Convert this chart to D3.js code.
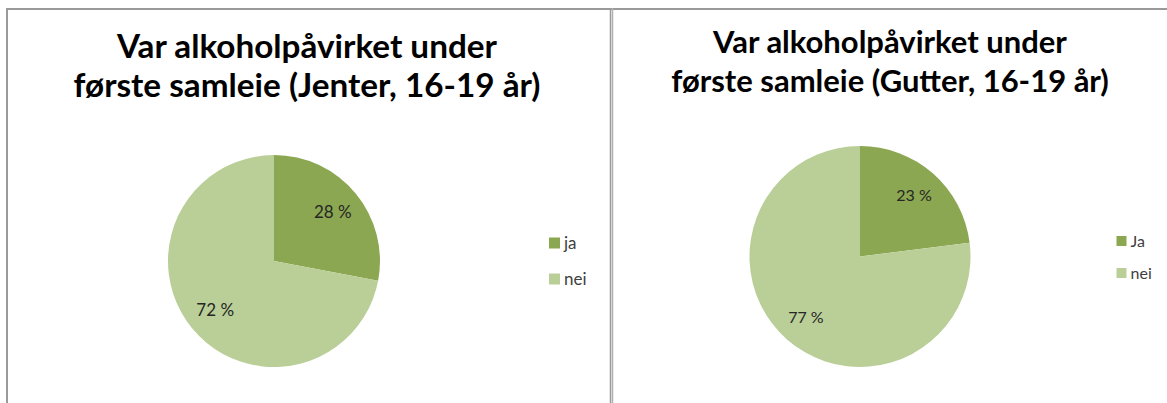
<!DOCTYPE html>
<html>
<head>
<meta charset="utf-8">
<script src="https://cdn.jsdelivr.net/npm/d3@7"></script>
<style>
  html, body { margin: 0; padding: 0; background: #fff; }
  svg { display: block; }
</style>
</head>
<body>
<svg id="chart" width="1167" height="403"></svg>
<script>
// ---- Data ----
const titleLine1 = ["Var alkoholpåvirket under", "Var alkoholpåvirket under"];
const titleLine2 = ["første samleie (Jenter, 16-19 år)", "første samleie (Gutter, 16-19 år)"];
const categoriesJenter = ["ja", "nei"];
const valuesJenter = [28, 72];
const categoriesGutter = ["Ja", "nei"];
const valuesGutter = [23, 77];
const sliceColors = ["#8BA751", "#B9CF97"];

// ---- Layout (not data) ----
const layouts = [
  { cx: 274, cy: 261, r: 106, labelR: 0.72, titleX: 307, t1y: 58, t2y: 97, t1w: 380,
    legX: 549, legY: 237.5, legSize: 11, legGap: 36, legFont: 17, labelFont: 17 },
  { cx: 860, cy: 256.5, r: 110.5, labelR: 0.74, titleX: 890, t1y: 53, t2y: 92, t1w: 354,
    legX: 1116.5, legY: 236, legSize: 10, legGap: 32, legFont: 16, labelFont: 16 }
];
const datasets = [
  { cats: categoriesJenter, vals: valuesJenter },
  { cats: categoriesGutter, vals: valuesGutter }
];

const svg = d3.select("#chart");
const FONT = "Lato, 'Open Sans', sans-serif";

// Frames
svg.append("line").attr("x1", 7).attr("x2", 1167).attr("y1", 9).attr("y2", 9)
  .attr("stroke", "#9a9a9a").attr("stroke-width", 2);
svg.append("line").attr("x1", 7).attr("x2", 7).attr("y1", 8).attr("y2", 403)
  .attr("stroke", "#9a9a9a").attr("stroke-width", 2);
svg.append("line").attr("x1", 610.5).attr("x2", 610.5).attr("y1", 8).attr("y2", 403)
  .attr("stroke", "#9a9a9a").attr("stroke-width", 1.5);
svg.append("line").attr("x1", 612.5).attr("x2", 612.5).attr("y1", 8).attr("y2", 403)
  .attr("stroke", "#b0b0b0").attr("stroke-width", 1.5);

datasets.forEach((ds, i) => {
  const L = layouts[i];
  const g = svg.append("g");

  // Title
  const tt = g.append("text").attr("x", L.titleX).attr("y", L.t1y)
    .attr("text-anchor", "middle").attr("font-family", FONT).attr("font-weight", "bold")
    .attr("font-size", 30).attr("fill", "#000").text(titleLine1[i]);
  const w = tt.node().getComputedTextLength();
  const fs = 30 * L.t1w / w;
  tt.attr("font-size", fs);
  g.append("text").attr("x", L.titleX).attr("y", L.t2y)
    .attr("text-anchor", "middle").attr("font-family", FONT).attr("font-weight", "bold")
    .attr("font-size", fs).attr("fill", "#000").text(titleLine2[i]);

  // Pie
  const color = d3.scaleOrdinal().domain(ds.cats).range(sliceColors);
  const pie = d3.pie().sort(null).value(d => d.v);
  const arcs = pie(ds.cats.map((c, k) => ({ c, v: ds.vals[k] })));
  const arc = d3.arc().innerRadius(0).outerRadius(L.r);
  const labelArc = d3.arc().innerRadius(L.r * L.labelR).outerRadius(L.r * L.labelR);
  const pg = g.append("g").attr("transform", `translate(${L.cx},${L.cy})`);
  pg.selectAll("path").data(arcs).join("path")
    .attr("d", arc).attr("fill", d => color(d.data.c));
  pg.selectAll("text").data(arcs).join("text")
    .attr("transform", d => `translate(${labelArc.centroid(d)})`)
    .attr("text-anchor", "middle").attr("dy", "0.35em")
    .attr("font-family", FONT).attr("font-size", L.labelFont).attr("fill", "#262626")
    .text(d => d.data.v + " %");

  // Legend
  const lg = g.append("g");
  const items = lg.selectAll("g").data(ds.cats).join("g")
    .attr("transform", (d, k) => `translate(${L.legX},${L.legY + k * L.legGap})`);
  items.append("rect").attr("width", L.legSize).attr("height", L.legSize)
    .attr("fill", d => color(d));
  items.append("text").attr("x", L.legSize + 4).attr("y", L.legSize / 2).attr("dy", "0.35em")
    .attr("font-family", FONT).attr("font-size", L.legFont).attr("fill", "#404040")
    .text(d => d);
});
</script>
</body>
</html>
